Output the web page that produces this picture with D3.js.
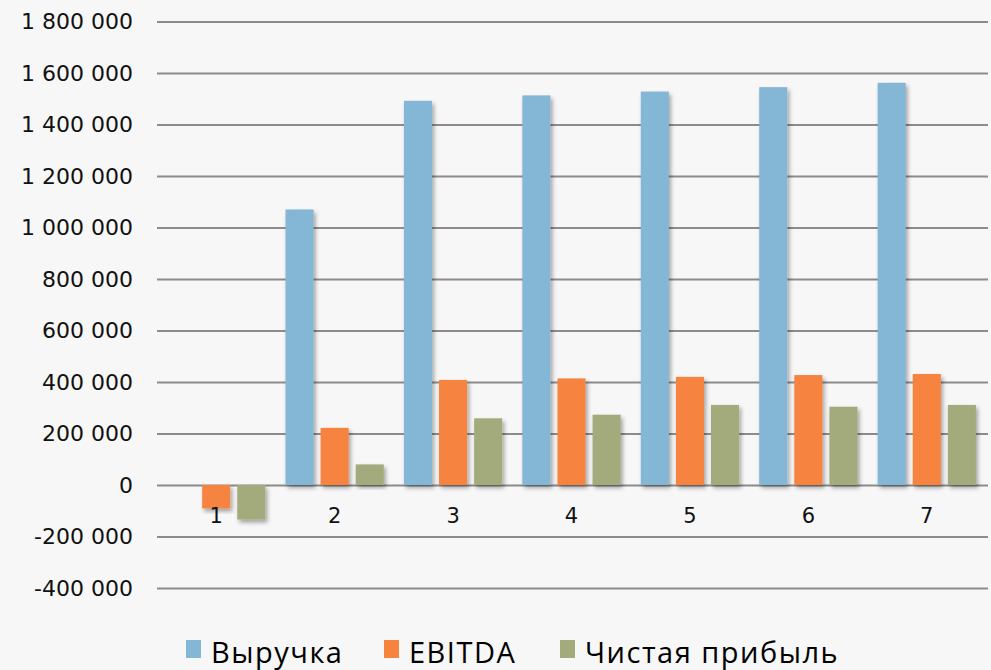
<!DOCTYPE html>
<html>
<head>
<meta charset="utf-8">
<script src="https://cdn.jsdelivr.net/npm/d3@7"></script>
<style>
  html, body { margin: 0; padding: 0; background: #f7f7f7; }
  svg { display: block; }
</style>
</head>
<body>
<div id="chart"></div>
<script>
// Chart data
const CATEGORIES = ["1", "2", "3", "4", "5", "6", "7"];
const SERIES = ["Выручка", "EBITDA", "Чистая прибыль"];
const REVENUE = [0, 1070000, 1492000, 1513000, 1528000, 1545000, 1562000];
const EBITDA = [-91000, 222000, 408000, 414000, 420000, 427000, 431000];
const NET_PROFIT = [-134000, 80000, 259000, 273000, 311000, 304000, 311000];
const Y_TICKS = [-400000, -200000, 0, 200000, 400000, 600000, 800000, 1000000, 1200000, 1400000, 1600000, 1800000];
const COLORS = ["#84b6d5", "#f6843f", "#a3aa7c"];

const W = 991, H = 670;
const plotLeft = 157, plotRight = 986, plotTop = 21.5, plotBottom = 588;

const svg = d3.select("#chart").append("svg")
  .attr("width", W)
  .attr("height", H);

svg.append("rect").attr("width", W).attr("height", H).attr("fill", "#f7f7f7");

// soft shadow under bars
const defs = svg.append("defs");
defs.append("filter").attr("id", "shadow")
  .attr("x", "-30%").attr("y", "-10%").attr("width", "170%").attr("height", "130%")
  .append("feDropShadow")
  .attr("dx", 2).attr("dy", 3).attr("stdDeviation", 2)
  .attr("flood-color", "#000").attr("flood-opacity", 0.35);

const y = d3.scaleLinear().domain([-400000, 1800000]).range([plotBottom, plotTop]);
const x = d3.scaleBand().domain(CATEGORIES).range([plotLeft, plotRight]).paddingInner(0.17).paddingOuter(0.085);
const xs = d3.scaleBand().domain(SERIES).range([0, x.bandwidth()]).paddingInner(0.2);

const fmt = v => d3.format(",")(v).replace(/,/g, " ").replace("−", "-");
const axisFont = "'DejaVu Sans', sans-serif";

// gridlines + y labels
const yAxis = d3.axisLeft(y).tickValues(Y_TICKS).tickSize(-(988 - plotLeft)).tickFormat(fmt).tickPadding(24);
const gy = svg.append("g").attr("transform", `translate(${plotLeft},0)`).call(yAxis);
gy.select(".domain").remove();
gy.selectAll(".tick line").attr("stroke", "#8c8c8c").attr("stroke-width", 2);
gy.selectAll(".tick text")
  .attr("fill", "#111")
  .style("font-family", axisFont)
  .style("font-size", "22px");

// bars
const rows = CATEGORIES.map((c, i) => ({ cat: c, vals: [REVENUE[i], EBITDA[i], NET_PROFIT[i]] }));
const groups = svg.append("g").selectAll("g").data(rows).join("g")
  .attr("transform", d => `translate(${x(d.cat)},0)`);

groups.selectAll("rect")
  .data(d => d.vals.map((v, k) => ({ v, k })).filter(e => e.v !== 0))
  .join("rect")
  .attr("x", e => xs(SERIES[e.k]))
  .attr("width", xs.bandwidth())
  .attr("y", e => y(Math.max(0, e.v)))
  .attr("height", e => Math.abs(y(e.v) - y(0)))
  .attr("fill", e => COLORS[e.k])
  .style("filter", "url(#shadow)");

// category labels
svg.append("g").selectAll("text").data(CATEGORIES).join("text")
  .attr("x", d => x(d) + x.bandwidth() / 2)
  .attr("y", y(0) + 38)
  .attr("text-anchor", "middle")
  .attr("fill", "#111")
  .style("font-family", axisFont)
  .style("font-size", "21px")
  .text(d => d);

// legend
const legendX = [186, 384, 560];
const legend = svg.append("g").selectAll("g").data(SERIES).join("g")
  .attr("transform", (d, i) => `translate(${legendX[i]},640)`);
legend.append("rect").attr("width", 15).attr("height", 18).attr("fill", (d, i) => COLORS[i]);
legend.append("text")
  .attr("x", 25).attr("y", 23)
  .attr("fill", "#000")
  .style("font-family", "'Open Sans', sans-serif")
  .style("font-size", "29px")
  .style("letter-spacing", "1.5px")
  .text(d => d);
</script>
</body>
</html>
